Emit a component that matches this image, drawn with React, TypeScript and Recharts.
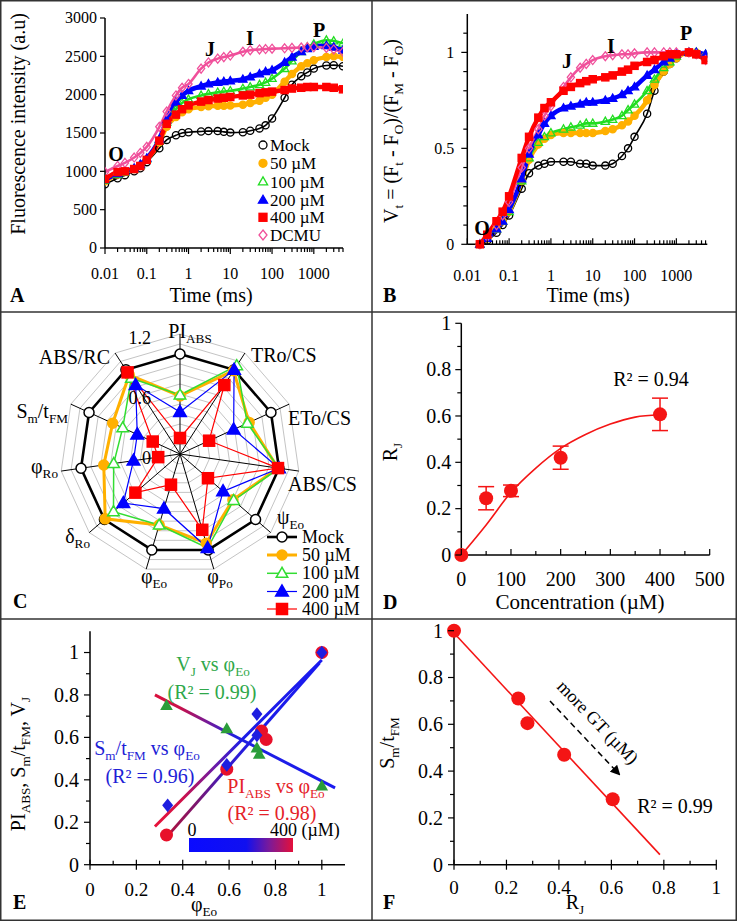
import React from "react";
import {
  LineChart,
  ComposedChart,
  Line,
  Scatter,
  XAxis,
  YAxis,
  ErrorBar,
  RadarChart,
  Radar,
  PolarGrid,
  PolarAngleAxis,
  PolarRadiusAxis,
} from "recharts";

const FONT = "'Liberation Serif', 'Times New Roman', Times, serif";

// ---------- A: raw OJIP transients (a.u.) ----------
const timeA = [0.01, 0.02, 0.03, 0.05, 0.07, 0.1, 0.2, 0.3, 0.5, 0.7, 1, 2, 3, 5, 7, 10, 20, 30, 50, 70, 100, 200, 300, 500, 700, 1000, 2000, 3000, 5000];
const fluoMock = [830, 910, 950, 1000, 1040, 1120, 1300, 1410, 1470, 1500, 1510, 1520, 1525, 1525, 1515, 1505, 1510, 1530, 1560, 1600, 1690, 1960, 2130, 2240, 2290, 2340, 2380, 2385, 2370];
const fluo50 = [870, 960, 990, 1030, 1070, 1150, 1380, 1580, 1710, 1770, 1810, 1840, 1850, 1855, 1855, 1860, 1870, 1890, 1920, 1960, 2000, 2170, 2270, 2370, 2410, 2450, 2490, 2500, 2490];
const fluo100 = [880, 960, 990, 1030, 1080, 1160, 1410, 1640, 1810, 1890, 1940, 1990, 2010, 2030, 2040, 2050, 2080, 2100, 2130, 2160, 2210, 2340, 2440, 2560, 2620, 2660, 2710, 2700, 2670];
const fluo200 = [890, 970, 1000, 1040, 1090, 1170, 1420, 1670, 1900, 1990, 2050, 2110, 2140, 2160, 2170, 2180, 2200, 2230, 2270, 2300, 2320, 2420, 2490, 2560, 2600, 2630, 2640, 2620, 2580];
const fluo400 = [900, 990, 1000, 1030, 1070, 1150, 1400, 1620, 1740, 1810, 1860, 1910, 1930, 1950, 1960, 1970, 1990, 2000, 2020, 2030, 2040, 2060, 2080, 2090, 2100, 2100, 2100, 2090, 2070];
const fluoDcmu = [990, 1070, 1110, 1180, 1240, 1320, 1580, 1780, 1990, 2090, 2140, 2340, 2420, 2470, 2490, 2510, 2560, 2580, 2590, 2595, 2600, 2605, 2610, 2615, 2620, 2620, 2610, 2590, 2560];

// ---------- B: relative variable fluorescence Vt ----------
const timeB = [0.02, 0.03, 0.05, 0.07, 0.1, 0.2, 0.3, 0.5, 0.7, 1, 2, 3, 5, 7, 10, 20, 30, 50, 70, 100, 200, 300, 500, 700, 1000, 2000, 3000, 5000];
const vMock = [0, 0.02, 0.06, 0.1, 0.15, 0.29, 0.37, 0.41, 0.42, 0.43, 0.43, 0.43, 0.42, 0.42, 0.41, 0.41, 0.42, 0.46, 0.5, 0.56, 0.68, 0.8, 0.9, 0.94, 0.97, 1.0, 0.99, 0.97];
const v50 = [0, 0.03, 0.08, 0.12, 0.17, 0.33, 0.44, 0.52, 0.55, 0.57, 0.58, 0.58, 0.58, 0.58, 0.58, 0.59, 0.6, 0.62, 0.64, 0.67, 0.75, 0.83, 0.9, 0.94, 0.97, 1.0, 1.0, 0.98];
const v100 = [0, 0.03, 0.08, 0.12, 0.17, 0.33, 0.45, 0.53, 0.56, 0.58, 0.6, 0.61, 0.62, 0.63, 0.63, 0.64, 0.65, 0.67, 0.7, 0.73, 0.8, 0.86, 0.92, 0.95, 0.98, 1.0, 1.0, 0.99];
const v200 = [0, 0.03, 0.08, 0.12, 0.18, 0.34, 0.47, 0.57, 0.63, 0.67, 0.71, 0.72, 0.73, 0.74, 0.74, 0.75, 0.76, 0.78, 0.8, 0.82, 0.88, 0.91, 0.95, 0.97, 0.99, 1.0, 1.0, 0.99];
const v400 = [0, 0.05, 0.12, 0.17, 0.25, 0.45, 0.56, 0.66, 0.71, 0.74, 0.8, 0.82, 0.84, 0.85, 0.86, 0.87, 0.88, 0.9, 0.91, 0.93, 0.95, 0.96, 0.98, 0.99, 0.99, 1.0, 0.99, 0.96];
const vDcmu = [0, 0.04, 0.1, 0.15, 0.22, 0.4, 0.5, 0.6, 0.67, 0.72, 0.82, 0.87, 0.92, 0.94, 0.96, 0.98, 0.985, 0.99, 0.99, 0.995, 1.0, 1.0, 1.0, 1.0, 1.0, 1.0, 0.99, 0.96];

const seriesKeys = ["mock", "g50", "g100", "g200", "g400", "dcmu"];
const seriesNames = ["Mock", "50 µM", "100 µM", "200 µM", "400 µM", "DCMU"];

const timeMajor = [0.01, 0.1, 1, 10, 100, 1000];
const timeMinor = [0.02, 0.03, 0.04, 0.05, 0.06, 0.07, 0.08, 0.09, 0.2, 0.3, 0.4, 0.5, 0.6, 0.7, 0.8, 0.9, 2, 3, 4, 5, 6, 7, 8, 9, 20, 30, 40, 50, 60, 70, 80, 90, 200, 300, 400, 500, 600, 700, 800, 900, 2000, 3000, 4000, 5000];
const fluoTicks = [0, 500, 1000, 1500, 2000, 2500, 3000];
const vMajor = [0, 0.5, 1];
const vMinor = [0.1, 0.2, 0.3, 0.4, 0.6, 0.7, 0.8, 0.9, 1.1];

// ---------- C: JIP-test radar ----------
const radarAxes = ["PI_{ABS}", "TRo/CS", "ETo/CS", "ABS/CS", "ψ_{Eo}", "φ_{Po}", "φ_{Eo}", "δ_{Ro}", "φ_{Ro}", "S_{m}/t_{FM}", "ABS/RC"];
const radarMock = [1, 1, 1, 1, 1, 1, 1, 1, 1, 1, 1];
const radar50 = [0.58, 0.99, 0.76, 0.99, 0.7, 0.93, 0.74, 0.99, 0.77, 0.74, 0.94];
const radar100 = [0.59, 1.05, 0.74, 1.0, 0.71, 0.98, 0.74, 0.88, 0.67, 0.63, 0.9];
const radar200 = [0.42, 1.0, 0.59, 1.0, 0.57, 0.98, 0.57, 0.75, 0.47, 0.47, 0.82];
const radar400 = [0.16, 0.82, 0.32, 0.99, 0.37, 0.79, 0.32, 0.59, 0.22, 0.3, 0.97];
const radarGrid = [0, 0.1, 0.2, 0.3, 0.4, 0.5, 0.6, 0.7, 0.8, 0.9, 1.0, 1.1, 1.2];
const radarLabels = [0, 0.6, 1.2];

// ---------- D: RJ vs concentration ----------
const concD = [0, 50, 100, 200, 400];
const rjD = [0, 0.245, 0.277, 0.42, 0.607];
const rjErr = [0, 0.05, 0.025, 0.05, 0.07];
const fitConc = [0, 50, 100, 150, 200, 250, 300, 350, 400];
const fitRj = [0, 0.13, 0.27, 0.375, 0.46, 0.52, 0.565, 0.595, 0.605];
const concMajor = [0, 100, 200, 300, 400, 500];
const concMinor = [50, 150, 250, 350, 450];
const unitMajor = [0, 0.2, 0.4, 0.6, 0.8, 1];
const unitMinor = [0.1, 0.3, 0.5, 0.7, 0.9];

// ---------- E: parameters vs phiEo ----------
const piX = [1.0, 0.76, 0.74, 0.59, 0.33];
const piY = [1.0, 0.59, 0.63, 0.45, 0.14];
const smX = [1.0, 0.72, 0.72, 0.59, 0.335];
const smY = [1.0, 0.71, 0.61, 0.47, 0.28];
const vjX = [1.0, 0.72, 0.73, 0.59, 0.33];
const vjY = [0.37, 0.55, 0.52, 0.64, 0.75];
const piFitX = [0.33, 0.99];
const piFitY = [0.13, 0.95];
const smFitX = [0.28, 1.0];
const smFitY = [0.18, 0.965];
const vjFitX = [0.28, 1.057];
const vjFitY = [0.8, 0.362];

// ---------- F: Sm/tFM vs RJ ----------
const rjF = [0, 0.245, 0.28, 0.42, 0.605];
const smF = [1.0, 0.71, 0.605, 0.47, 0.28];
const fFitX = [0, 0.785];
const fFitY = [0.99, 0.043];

const STYLE: Record<string, { color: string; shape: string; filled: boolean; band: number }> = {
  mock: { color: "#000000", shape: "circle", filled: false, band: 1.6 },
  g50: { color: "#FFB000", shape: "circle", filled: true, band: 4.5 },
  g100: { color: "#22DD22", shape: "triangle", filled: false, band: 2.6 },
  g200: { color: "#0000FF", shape: "triangle", filled: true, band: 4.5 },
  g400: { color: "#FF0000", shape: "square", filled: true, band: 4.5 },
  dcmu: { color: "#F0509B", shape: "diamond", filled: false, band: 2.6 },
};
const drawOrder = ["mock", "g50", "g100", "g200", "dcmu", "g400"];

const rowsA = timeA.map((t, i) => ({
  t, mock: fluoMock[i], g50: fluo50[i], g100: fluo100[i], g200: fluo200[i], g400: fluo400[i], dcmu: fluoDcmu[i],
}));
const rowsB = timeB.map((t, i) => ({
  t, mock: vMock[i], g50: v50[i], g100: v100[i], g200: v200[i], g400: v400[i], dcmu: vDcmu[i],
}));
const rowsC = radarAxes.map((axis, i) => ({
  axis, mock: radarMock[i], g50: radar50[i], g100: radar100[i], g200: radar200[i], g400: radar400[i],
}));
const pts = (xs: number[], ys: number[], extra?: number[]) =>
  xs.map((x, i) => ({ x, y: ys[i], err: extra ? extra[i] : 0 }));

function Mark({ cx, cy, shape, color, filled, r = 4, sw = 1.2, bg = "none" }: any) {
  if (cx == null || cy == null) return null;
  const fill = filled ? color : bg;
  if (shape === "square")
    return <rect x={cx - r} y={cy - r} width={2 * r} height={2 * r} fill={fill} stroke={color} strokeWidth={sw} />;
  if (shape === "triangle")
    return (
      <polygon
        points={`${cx},${cy - r * 1.2} ${cx - r * 1.15},${cy + r * 0.8} ${cx + r * 1.15},${cy + r * 0.8}`}
        fill={fill} stroke={color} strokeWidth={sw}
      />
    );
  if (shape === "diamond")
    return (
      <polygon
        points={`${cx},${cy - r * 1.25} ${cx + r},${cy} ${cx},${cy + r * 1.25} ${cx - r},${cy}`}
        fill={fill} stroke={color} strokeWidth={sw}
      />
    );
  return <circle cx={cx} cy={cy} r={r} fill={fill} stroke={color} strokeWidth={sw} />;
}

// text with _{subscript} parts
function Rich({ s, x, y, size, anchor = "middle", fill = "#000", weight = "normal", rotate = 0 }: any) {
  const parts: { t: string; sub: boolean }[] = [];
  const re = /_\{([^}]*)\}/g;
  let last = 0;
  let m: RegExpExecArray | null;
  while ((m = re.exec(s))) {
    if (m.index > last) parts.push({ t: s.slice(last, m.index), sub: false });
    parts.push({ t: m[1], sub: true });
    last = re.lastIndex;
  }
  if (last < s.length) parts.push({ t: s.slice(last), sub: false });
  let down = false;
  const shift = size * 0.26;
  return (
    <text
      x={x} y={y} textAnchor={anchor} fontFamily={FONT} fontSize={size} fill={fill} fontWeight={weight}
      transform={rotate ? `rotate(${rotate} ${x} ${y})` : undefined}
    >
      {parts.map((p, i) => {
        let dy = 0;
        if (p.sub && !down) { dy = shift; down = true; }
        else if (!p.sub && down) { dy = -shift; down = false; }
        return (
          <tspan key={i} dy={dy} fontSize={p.sub ? size * 0.66 : size}>{p.t}</tspan>
        );
      })}
    </text>
  );
}

function tickX(o: { majors: number[]; font: number; gap: number; out: number; inn: number; mOut: number; mIn: number }) {
  return (p: any) => {
    const v = p.payload.value;
    const major = o.majors.includes(v);
    const a = major ? o.out : o.mOut;
    const b = major ? o.inn : o.mIn;
    return (
      <g key={`x${v}`}>
        <line x1={p.x} x2={p.x} y1={p.y - b} y2={p.y + a} stroke="#000" strokeWidth={1.2} />
        {major && (
          <text x={p.x} y={p.y + o.gap} textAnchor="middle" fontFamily={FONT} fontSize={o.font} fill="#000">
            {String(v)}
          </text>
        )}
      </g>
    );
  };
}

function tickY(o: { majors: number[]; font: number; gap: number; out: number; mOut: number }) {
  return (p: any) => {
    const v = p.payload.value;
    const major = o.majors.includes(v);
    const a = major ? o.out : o.mOut;
    return (
      <g key={`y${v}`}>
        <line x1={p.x - a} x2={p.x} y1={p.y} y2={p.y} stroke="#000" strokeWidth={1.2} />
        {major && (
          <text x={p.x - o.gap} y={p.y} dy="0.34em" textAnchor="end" fontFamily={FONT} fontSize={o.font} fill="#000">
            {String(v)}
          </text>
        )}
      </g>
    );
  };
}

const AX = { stroke: "#000", strokeWidth: 1.5 };

function frameAxes() {
  return [
    <XAxis key="ft" xAxisId="top" orientation="top" type="number" domain={[0, 1]} height={0} tick={false} tickLine={false} axisLine={AX} />,
    <YAxis key="fr" yAxisId="right" orientation="right" type="number" domain={[0, 1]} width={0} tick={false} tickLine={false} axisLine={AX} />,
  ];
}

function ojipLines(rows: any[]) {
  return drawOrder.map((k) => {
    const s = STYLE[k];
    return (
      <Line
        key={k}
        data={rows}
        dataKey={k}
        type="monotone"
        stroke={s.color}
        strokeWidth={s.band}
        isAnimationActive={false}
        activeDot={false}
        dot={(p: any) => (
          <Mark key={`${k}-${p.index}`} cx={p.cx} cy={p.cy} shape={s.shape} color={s.color} filled={s.filled} r={3.6} sw={1.3} />
        )}
      />
    );
  });
}

// label placement around the radar (dx, baseline dy, anchor) relative to the centre
const radarLabelAt: [number, number, string][] = [
  [10, -116, "middle"], [71, -92, "start"], [108, -29, "start"], [108, 37, "start"], [97, 70, "start"],
  [40, 129, "middle"], [-26, 129, "middle"], [-90, 89, "end"], [-122, 19, "end"], [-112, -36, "end"], [-70, -90, "end"],
];
const RCX = 180;
const RCY = 142;

const radarStyle = [
  { key: "mock", color: "#000000", width: 2.6, shape: "circle", filled: false, r: 5 },
  { key: "g50", color: "#FFB000", width: 3, shape: "circle", filled: true, r: 5 },
  { key: "g100", color: "#33DD33", width: 1.5, shape: "triangle", filled: false, r: 5 },
  { key: "g200", color: "#0000FF", width: 1.2, shape: "triangle", filled: true, r: 5.5 },
  { key: "g400", color: "#FF0000", width: 1.2, shape: "square", filled: true, r: 5.5 },
];

const RED = "#F41515";

export default function App() {
  const legendA = [145, 163.3, 181.7, 200, 217.3, 235];
  const legendC = [537, 555, 573.3, 591.5, 609];
  return (
    <div style={{ position: "absolute", left: 0, top: 0, width: 738, height: 921, background: "#fff", overflow: "hidden" }}>
      {/* A */}
      <div style={{ position: "absolute", left: 0, top: 0 }}>
        <LineChart width={372} height={312} margin={{ top: 18, right: 29, bottom: 0, left: 0 }}>
          <XAxis
            dataKey="t" type="number" scale="log" domain={[0.01, 5000]} allowDataOverflow
            ticks={[...timeMajor, ...timeMinor]} interval={0} height={64} tickSize={0} tickMargin={0} tickLine={false}
            axisLine={AX} tick={tickX({ majors: timeMajor, font: 16, gap: 31, out: 6, inn: 0, mOut: 4, mIn: 0 })}
          />
          <YAxis
            type="number" domain={[0, 3000]} ticks={fluoTicks} interval={0} width={105} tickSize={0} tickMargin={0}
            tickLine={false} axisLine={AX} tick={tickY({ majors: fluoTicks, font: 16, gap: 8, out: 5, mOut: 0 })}
          />
          {ojipLines(rowsA)}
        </LineChart>
      </div>

      {/* B */}
      <div style={{ position: "absolute", left: 372, top: 0 }}>
        <LineChart width={364} height={312} margin={{ top: 14, right: 28.7, bottom: 0, left: 0 }}>
          <XAxis
            dataKey="t" type="number" scale="log" domain={[0.01, 5500]} allowDataOverflow
            ticks={[...timeMajor, ...timeMinor]} interval={0} height={67.7} tickSize={0} tickMargin={0} tickLine={false}
            axisLine={AX} tick={tickX({ majors: timeMajor, font: 16, gap: 37, out: 0, inn: 6, mOut: 0, mIn: 4 })}
          />
          <YAxis
            type="number" domain={[0, 1.2]} ticks={[...vMajor, ...vMinor]} interval={0} width={95.3} tickSize={0}
            tickMargin={0} tickLine={false} axisLine={AX}
            tick={tickY({ majors: vMajor, font: 16, gap: 13, out: 6, mOut: 4 })}
          />
          {frameAxes()}
          {ojipLines(rowsB)}
        </LineChart>
      </div>

      {/* C */}
      <div style={{ position: "absolute", left: 0, top: 312 }}>
        <RadarChart width={372} height={307} cx={RCX} cy={RCY} outerRadius={120} data={rowsC} margin={{ top: 0, right: 0, bottom: 0, left: 0 }}>
          <PolarGrid gridType="polygon" radialLines={false} stroke="#c4c4c4" strokeWidth={1} />
          <PolarGrid gridType="polygon" polarRadius={[]} stroke="#000" strokeWidth={1} />
          <PolarAngleAxis
            dataKey="axis" axisLine={false} tickLine={false}
            tick={(p: any) => {
              const i = radarAxes.indexOf(p.payload.value);
              const [dx, dy, anchor] = radarLabelAt[i];
              return (
                <g key={`a${i}`}>
                  <Rich s={radarAxes[i]} x={RCX + dx} y={RCY + dy} size={20} anchor={anchor} />
                </g>
              );
            }}
          />
          <PolarRadiusAxis
            angle={90} type="number" domain={[0, 1.2]} ticks={radarGrid} tickCount={13} axisLine={false} tickLine={false}
            tick={(p: any) => {
              const v = p.payload.value;
              const lab = radarLabels.find((l) => Math.abs(l - v) < 1e-6);
              if (lab === undefined) return <g key={`r${v}`} />;
              return (
                <text key={`r${v}`} x={p.x - 29} y={p.y + 10} textAnchor="end" fontFamily={FONT} fontSize={18} fill="#000">
                  {String(lab)}
                </text>
              );
            }}
          />
          {radarStyle.map((s) => (
            <Radar
              key={s.key}
              dataKey={s.key}
              stroke={s.color}
              strokeWidth={s.width}
              fill="none"
              fillOpacity={0}
              isAnimationActive={false}
              dot={(p: any) => (
                <Mark key={`${s.key}-${p.index}`} cx={p.cx} cy={p.cy} shape={s.shape} color={s.color} filled={s.filled} r={s.r} sw={1.5} bg="#fff" />
              )}
            />
          ))}
        </RadarChart>
      </div>

      {/* D */}
      <div style={{ position: "absolute", left: 372, top: 312 }}>
        <ComposedChart width={364} height={307} margin={{ top: 11.3, right: 26.3, bottom: 0, left: 0 }}>
          <XAxis
            dataKey="x" type="number" domain={[0, 500]} ticks={[...concMajor, ...concMinor]} interval={0} height={64}
            tickSize={0} tickMargin={0} tickLine={false} axisLine={AX}
            tick={tickX({ majors: concMajor, font: 20, gap: 31, out: 0, inn: 6, mOut: 0, mIn: 4 })}
          />
          <YAxis
            dataKey="y" type="number" domain={[0, 1]} ticks={[...unitMajor, ...unitMinor]} interval={0} width={89.3}
            tickSize={0} tickMargin={0} tickLine={false} axisLine={AX}
            tick={tickY({ majors: unitMajor, font: 20, gap: 10, out: 6, mOut: 4 })}
          />
          {frameAxes()}
          <Line data={pts(fitConc, fitRj)} dataKey="y" type="monotone" stroke={RED} strokeWidth={1.6} dot={false} activeDot={false} isAnimationActive={false} />
          <Scatter
            data={pts(concD, rjD, rjErr)} dataKey="y" fill={RED} isAnimationActive={false}
            shape={(p: any) => <Mark cx={p.cx} cy={p.cy} shape="circle" color={RED} filled r={7} sw={0} />}
          >
            <ErrorBar dataKey="err" direction="y" width={8} stroke={RED} strokeWidth={1.5} />
          </Scatter>
        </ComposedChart>
      </div>

      {/* E */}
      <div style={{ position: "absolute", left: 0, top: 619 }}>
        <ComposedChart width={372} height={301} margin={{ top: 12.3, right: 27, bottom: 0, left: 0 }}>
          <XAxis
            dataKey="x" type="number" domain={[0, 1.1]} ticks={[...unitMajor, ...unitMinor]} interval={0} height={55.3}
            tickSize={0} tickMargin={0} tickLine={false} axisLine={AX}
            tick={tickX({ majors: unitMajor, font: 19, gap: 31, out: 5, inn: 5, mOut: 0, mIn: 4 })}
          />
          <YAxis
            dataKey="y" type="number" domain={[0, 1.1]} ticks={[...unitMajor, ...unitMinor]} interval={0} width={90}
            tickSize={0} tickMargin={0} tickLine={false} axisLine={AX}
            tick={tickY({ majors: unitMajor, font: 20, gap: 11, out: 6, mOut: 4 })}
          />
          {frameAxes()}
          <Scatter data={pts(piX, piY)} dataKey="y" fill="#E8102A" isAnimationActive={false}
            shape={(p: any) => <Mark cx={p.cx} cy={p.cy} shape="circle" color="#E8102A" filled r={6.5} sw={0} />} />
          <Scatter data={pts(vjX, vjY)} dataKey="y" fill="#2A9D3A" isAnimationActive={false}
            shape={(p: any) => <Mark cx={p.cx} cy={p.cy} shape="triangle" color="#2A9D3A" filled r={5.5} sw={0} />} />
          <Scatter data={pts(smX, smY)} dataKey="y" fill="#1E1EE0" isAnimationActive={false}
            shape={(p: any) => <Mark cx={p.cx} cy={p.cy} shape="diamond" color="#1E1EE0" filled r={5.5} sw={0} />} />
          <Line data={pts(vjFitX, vjFitY)} dataKey="y" stroke="url(#gradVJ)" strokeWidth={3} dot={false} activeDot={false} isAnimationActive={false} />
          <Line data={pts(smFitX, smFitY)} dataKey="y" stroke="url(#gradSM)" strokeWidth={3} dot={false} activeDot={false} isAnimationActive={false} />
          <Line data={pts(piFitX, piFitY)} dataKey="y" stroke="url(#gradPI)" strokeWidth={3} dot={false} activeDot={false} isAnimationActive={false} />
        </ComposedChart>
      </div>

      {/* F */}
      <div style={{ position: "absolute", left: 372, top: 619 }}>
        <ComposedChart width={364} height={301} margin={{ top: 11.7, right: 19.7, bottom: 0, left: 0 }}>
          <XAxis
            dataKey="x" type="number" domain={[0, 1]} ticks={[...unitMajor, ...unitMinor]} interval={0} height={55.3}
            tickSize={0} tickMargin={0} tickLine={false} axisLine={AX}
            tick={tickX({ majors: unitMajor, font: 19, gap: 29, out: 5, inn: 5, mOut: 0, mIn: 4 })}
          />
          <YAxis
            dataKey="y" type="number" domain={[0, 1]} ticks={[...unitMajor, ...unitMinor]} interval={0} width={82}
            tickSize={0} tickMargin={0} tickLine={false} axisLine={AX}
            tick={tickY({ majors: unitMajor, font: 20, gap: 11, out: 6, mOut: 4 })}
          />
          {frameAxes()}
          <Line data={pts(fFitX, fFitY)} dataKey="y" stroke={RED} strokeWidth={1.6} dot={false} activeDot={false} isAnimationActive={false} />
          <Scatter data={pts(rjF, smF)} dataKey="y" fill={RED} isAnimationActive={false}
            shape={(p: any) => <Mark cx={p.cx} cy={p.cy} shape="circle" color={RED} filled r={7} sw={0} />} />
        </ComposedChart>
      </div>

      {/* annotations, legends and panel frame */}
      <svg width={738} height={921} style={{ position: "absolute", left: 0, top: 0, pointerEvents: "none" }}>
        <defs>
          <linearGradient id="gradVJ" x1="0" y1="0" x2="1" y2="0">
            <stop offset="0%" stopColor="#DA103C" />
            <stop offset="14%" stopColor="#C8104A" />
            <stop offset="30%" stopColor="#701A9C" />
            <stop offset="45%" stopColor="#2020E0" />
            <stop offset="100%" stopColor="#1A1AF0" />
          </linearGradient>
          <linearGradient id="gradSM" x1="0" y1="0" x2="1" y2="0">
            <stop offset="0%" stopColor="#E8133A" />
            <stop offset="16%" stopColor="#D01048" />
            <stop offset="36%" stopColor="#6A1AA8" />
            <stop offset="52%" stopColor="#1C1CE6" />
            <stop offset="100%" stopColor="#1A1AF0" />
          </linearGradient>
          <linearGradient id="gradPI" x1="0" y1="0" x2="1" y2="0">
            <stop offset="0%" stopColor="#B0103C" />
            <stop offset="20%" stopColor="#7A1670" />
            <stop offset="40%" stopColor="#3A1AC8" />
            <stop offset="55%" stopColor="#1C1CE6" />
            <stop offset="100%" stopColor="#1A1AF0" />
          </linearGradient>
          <linearGradient id="barGrad" x1="0" y1="0" x2="1" y2="0">
            <stop offset="0%" stopColor="#0A0AFF" />
            <stop offset="55%" stopColor="#1010F0" />
            <stop offset="77%" stopColor="#7A1A9A" />
            <stop offset="100%" stopColor="#E4103A" />
          </linearGradient>
          <marker id="arrowHead" markerWidth="10" markerHeight="10" refX="8" refY="5" orient="auto" markerUnits="userSpaceOnUse">
            <path d="M0,0 L10,5 L0,10 z" fill="#000" />
          </marker>
        </defs>

        {/* A */}
        <Rich s="Fluorescence intensity (a.u)" x={25} y={124} size={20} rotate={-90} />
        <Rich s="Time (ms)" x={211} y={302} size={20} />
        <Rich s="A" x={10} y={302} size={20} weight="bold" anchor="start" />
        <Rich s="O" x={116} y={161} size={20} weight="bold" />
        <Rich s="J" x={210} y={56} size={20} weight="bold" />
        <Rich s="I" x={250} y={45} size={20} weight="bold" />
        <Rich s="P" x={319} y={37} size={20} weight="bold" />
        {seriesKeys.map((k, i) => (
          <g key={`la${k}`}>
            <Mark cx={263} cy={legendA[i]} shape={STYLE[k].shape} color={STYLE[k].color} filled={STYLE[k].filled} r={4} sw={1.3} />
            <Rich s={seriesNames[i]} x={270} y={legendA[i] + 6} size={17} anchor="start" />
          </g>
        ))}

        {/* B */}
        <Rich s="V_{t} = (F_{t} - F_{O})/(F_{M} - F_{O})" x={398} y={131} size={20} rotate={-90} />
        <Rich s="Time (ms)" x={588} y={302} size={20} />
        <Rich s="B" x={383} y={302} size={20} weight="bold" anchor="start" />
        <Rich s="O" x={482} y={235} size={20} weight="bold" />
        <Rich s="J" x={567} y={68} size={20} weight="bold" />
        <Rich s="I" x={611} y={53} size={20} weight="bold" />
        <Rich s="P" x={686} y={40} size={20} weight="bold" />

        {/* C legend */}
        {radarStyle.map((s, i) => (
          <g key={`lc${s.key}`}>
            <line x1={267} x2={297} y1={legendC[i]} y2={legendC[i]} stroke={s.color} strokeWidth={s.width} />
            <Mark cx={282} cy={legendC[i]} shape={s.shape} color={s.color} filled={s.filled} r={s.r} sw={1.5} bg="#fff" />
            <Rich s={seriesNames[i]} x={302} y={legendC[i] + 6} size={18} anchor="start" />
          </g>
        ))}
        <Rich s="C" x={13} y={608} size={20} weight="bold" anchor="start" />

        {/* D */}
        <Rich s="R_{J}" x={397} y={452} size={20} rotate={-90} />
        <Rich s="Concentration (µM)" x={580} y={609} size={21} />
        <Rich s="R² = 0.94" x={651} y={386} size={20} />
        <Rich s="D" x={383} y={609} size={20} weight="bold" anchor="start" />

        {/* E */}
        <Rich s="PI_{ABS}, S_{m}/t_{FM}, V_{J}" x={25} y={764} size={20} rotate={-90} />
        <Rich s="φ_{Eo}" x={204} y={911} size={20} />
        <Rich s="E" x={13} y={909} size={20} weight="bold" anchor="start" />
        <Rich s="V_{J} vs φ_{Eo}" x={213} y={671} size={20} fill="#2FA84A" />
        <Rich s="(R² = 0.99)" x={212} y={699} size={20} fill="#2FA84A" />
        <Rich s="S_{m}/t_{FM} vs φ_{Eo}" x={147} y={755} size={20} fill="#1E1ED6" />
        <Rich s="(R² = 0.96)" x={150} y={783} size={20} fill="#1E1ED6" />
        <Rich s="PI_{ABS} vs φ_{Eo}" x={276} y={793} size={20} fill="#E52228" />
        <Rich s="(R² = 0.98)" x={272} y={820} size={20} fill="#E52228" />
        <Rich s="0" x={192} y={836} size={18} />
        <Rich s="400 (µM)" x={270} y={836} size={18} anchor="start" />
        <rect x={189} y={838} width={104} height={14} fill="url(#barGrad)" />

        {/* F */}
        <Rich s="S_{m}/t_{FM}" x={394} y={743} size={20} rotate={-90} />
        <Rich s="R_{J}" x={575} y={909} size={20} />
        <Rich s="F" x={383} y={909} size={20} weight="bold" anchor="start" />
        <Rich s="R² = 0.99" x={675} y={813} size={20} />
        <line x1={550} y1={701} x2={619} y2={774} stroke="#000" strokeWidth={1.5} strokeDasharray="6 4" markerEnd="url(#arrowHead)" />
        <text x={598} y={722} dy="0.35em" textAnchor="middle" fontFamily={FONT} fontSize={18} transform="rotate(46 598 722)">
          more GT (µM)
        </text>

        {/* panel frame */}
        <rect x={0.75} y={0.75} width={735.5} height={919.5} fill="none" stroke="#333" strokeWidth={1.5} />
        <line x1={372} x2={372} y1={0} y2={920} stroke="#333" strokeWidth={1.5} />
        <line x1={0} x2={736} y1={312} y2={312} stroke="#333" strokeWidth={1.5} />
        <line x1={0} x2={736} y1={619} y2={619} stroke="#333" strokeWidth={1.5} />
      </svg>
    </div>
  );
}
